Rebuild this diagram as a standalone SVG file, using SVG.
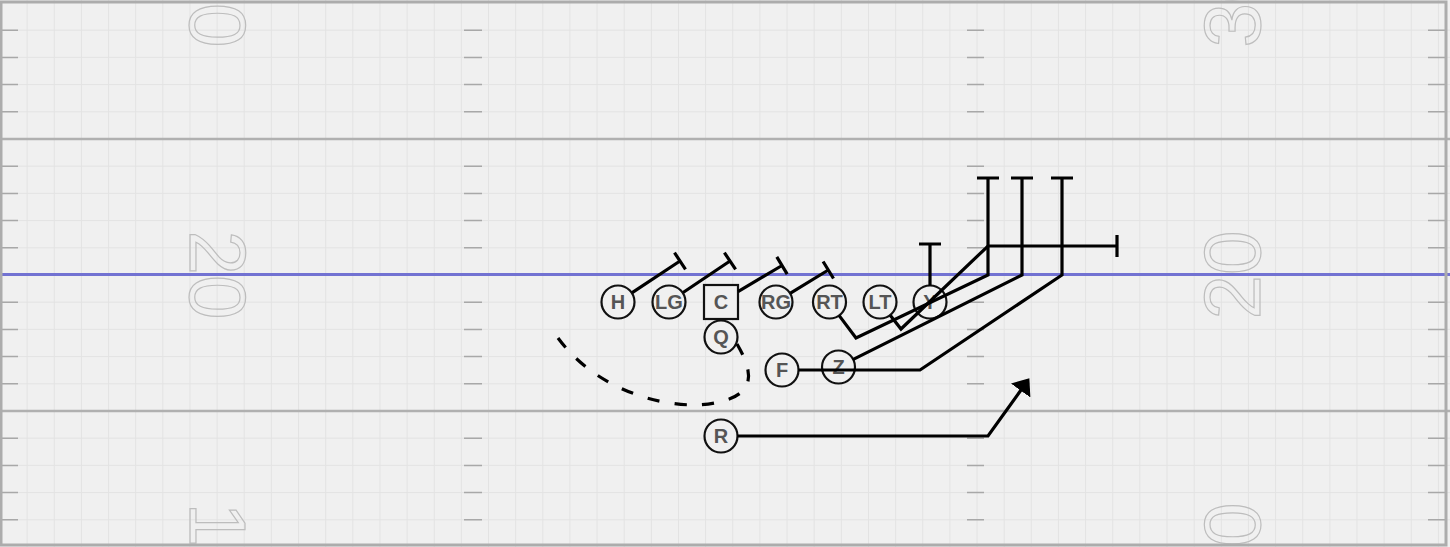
<svg xmlns="http://www.w3.org/2000/svg" width="1450" height="547" viewBox="0 0 1450 547">
<style>
.grid{stroke:#e3e3e3;stroke-width:1;fill:none}
.hash{stroke:#a8a8a8;stroke-width:1.5;fill:none}
.yard{stroke:#b0b0b0;stroke-width:2.5;fill:none}
.num{font-family:"Liberation Sans",Arial,sans-serif;font-size:80px;fill:none;stroke:#bdbdbd;stroke-width:1.2;text-anchor:middle}
.p{fill:#f0f0f0;stroke:#111;stroke-width:2.2}
.lbl{font-family:"Liberation Sans",Arial,sans-serif;font-weight:bold;font-size:20px;fill:#555;text-anchor:middle;dominant-baseline:central}
.rt{fill:none;stroke:#000;stroke-width:3.2;stroke-linejoin:miter}
.dash{stroke-dasharray:12 15}
</style>
<defs>
<marker id="arrow" markerUnits="userSpaceOnUse" viewBox="0 0 15 24" markerWidth="15" markerHeight="24" refX="1" refY="12" orient="auto">
<path d="M0,0 L15,12 L0,24 Z" fill="#000"/>
</marker>
</defs>
<g id="field">
<rect x="0" y="0" width="1450" height="547" fill="#f0f0f0"/>
<path class="grid" d="M27.14 0V547M54.28 0V547M81.42 0V547M108.56 0V547M135.7 0V547M162.84 0V547M189.98 0V547M217.12 0V547M244.26 0V547M271.4 0V547M298.54 0V547M325.68 0V547M352.82 0V547M379.96 0V547M407.1 0V547M434.24 0V547M461.38 0V547M488.52 0V547M515.66 0V547M542.8 0V547M569.94 0V547M597.08 0V547M624.22 0V547M651.36 0V547M678.5 0V547M705.64 0V547M732.78 0V547M759.92 0V547M787.06 0V547M814.2 0V547M841.34 0V547M868.48 0V547M895.62 0V547M922.76 0V547M949.9 0V547M977.04 0V547M1004.18 0V547M1031.32 0V547M1058.46 0V547M1085.6 0V547M1112.74 0V547M1139.88 0V547M1167.02 0V547M1194.16 0V547M1221.3 0V547M1248.44 0V547M1275.58 0V547M1302.72 0V547M1329.86 0V547M1357 0V547M1384.14 0V547M1411.28 0V547M1438.42 0V547M0 30.2H1450M0 57.4H1450M0 84.6H1450M0 111.8H1450M0 166.2H1450M0 193.4H1450M0 220.6H1450M0 247.8H1450M0 302.2H1450M0 329.4H1450M0 356.6H1450M0 383.8H1450M0 438.2H1450M0 465.4H1450M0 492.6H1450M0 519.8H1450"/>
<path class="hash" d="M2 30.2H18M2 57.4H18M2 84.6H18M2 111.8H18M2 166.2H18M2 193.4H18M2 220.6H18M2 247.8H18M2 302.2H18M2 329.4H18M2 356.6H18M2 383.8H18M2 438.2H18M2 465.4H18M2 492.6H18M2 519.8H18
M464 30.2H482M464 57.4H482M464 84.6H482M464 111.8H482M464 166.2H482M464 193.4H482M464 220.6H482M464 247.8H482M464 302.2H482M464 329.4H482M464 356.6H482M464 383.8H482M464 438.2H482M464 465.4H482M464 492.6H482M464 519.8H482
M967 30.2H984M967 57.4H984M967 84.6H984M967 111.8H984M967 166.2H984M967 193.4H984M967 220.6H984M967 247.8H984M967 302.2H984M967 329.4H984M967 356.6H984M967 383.8H984M967 438.2H984M967 465.4H984M967 492.6H984M967 519.8H984
M1428 30.2H1446M1428 57.4H1446M1428 84.6H1446M1428 111.8H1446M1428 166.2H1446M1428 193.4H1446M1428 220.6H1446M1428 247.8H1446M1428 302.2H1446M1428 329.4H1446M1428 356.6H1446M1428 383.8H1446M1428 438.2H1446M1428 465.4H1446M1428 492.6H1446M1428 519.8H1446"/>
<path class="yard" d="M0 139H1450M0 411H1450"/>
<text class="num" transform="translate(190,3) rotate(90)">30</text>
<text class="num" transform="translate(190,275) rotate(90)">20</text>
<text class="num" transform="translate(190,547) rotate(90)">10</text>
<text class="num" transform="translate(1260,3) rotate(-90)">30</text>
<text class="num" transform="translate(1260,275) rotate(-90)">20</text>
<text class="num" transform="translate(1260,547) rotate(-90)">10</text>
<line x1="0" y1="274.5" x2="1450" y2="274.5" stroke="#7272d2" stroke-width="3"/>
<rect x="1" y="2" width="1445" height="543" fill="none" stroke="#acacac" stroke-width="3"/>
</g>
<g id="H"><circle class="p" cx="618" cy="302" r="16.5"/><text class="lbl" x="618" y="302">H</text></g>
<g id="LG"><circle class="p" cx="669" cy="302" r="16.5"/><text class="lbl" x="669" y="302">LG</text></g>
<g id="C"><rect class="p" x="704" y="285" width="34" height="34"/><text class="lbl" x="721" y="302">C</text></g>
<g id="RG"><circle class="p" cx="776" cy="302" r="16.5"/><text class="lbl" x="776" y="302">RG</text></g>
<g id="RT"><circle class="p" cx="829.5" cy="302" r="16.5"/><text class="lbl" x="829.5" y="302">RT</text></g>
<g id="LT"><circle class="p" cx="880" cy="302" r="16.5"/><text class="lbl" x="880" y="302">LT</text></g>
<g id="Y"><circle class="p" cx="930" cy="302" r="16.5"/><text class="lbl" x="930" y="302">Y</text></g>
<g id="Q"><circle class="p" cx="721" cy="337" r="16.5"/><text class="lbl" x="721" y="337">Q</text></g>
<g id="F"><circle class="p" cx="782" cy="370" r="16.5"/><text class="lbl" x="782" y="370">F</text></g>
<g id="Z"><circle class="p" cx="838.5" cy="367" r="16.5"/><text class="lbl" x="838.5" y="367">Z</text></g>
<g id="R"><circle class="p" cx="721" cy="436" r="16.5"/><text class="lbl" x="721" y="436">R</text></g>
<g id="connectors">
<path class="rt" d="M632.2 292.6L680 261M674.5 252.7L685.5 269.3"/>
<path class="rt" d="M683.1 292.5L730 261M724.4 252.7L735.6 269.3"/>
<path class="rt" d="M738 291.7L782 265.5M776.8 256.9L787.2 274.1"/>
<path class="rt" d="M790.5 293.1L828.3 270M823.1 261.5L833.5 278.5"/>
<path class="rt" d="M930 285.5V244M919 244H941"/>
<path class="rt" d="M839.2 315.6L856 338L988 275V178M977 178H999"/>
<path class="rt" d="M890.4 315.4L901 329L988 246H1117M1117 235V257"/>
<path class="rt" d="M852.8 359.6L1022 275V178M1011 178H1033"/>
<path class="rt" d="M798.5 370H920L1062 275V178M1051 178H1073"/>
<path class="rt" d="M737.5 436H988L1021.2 389.7" marker-end="url(#arrow)"/>
<path class="rt dash" pathLength="255" d="M737 344C755 375 755 395 715 403S600 395 558 338"/>
</g>
</svg>
